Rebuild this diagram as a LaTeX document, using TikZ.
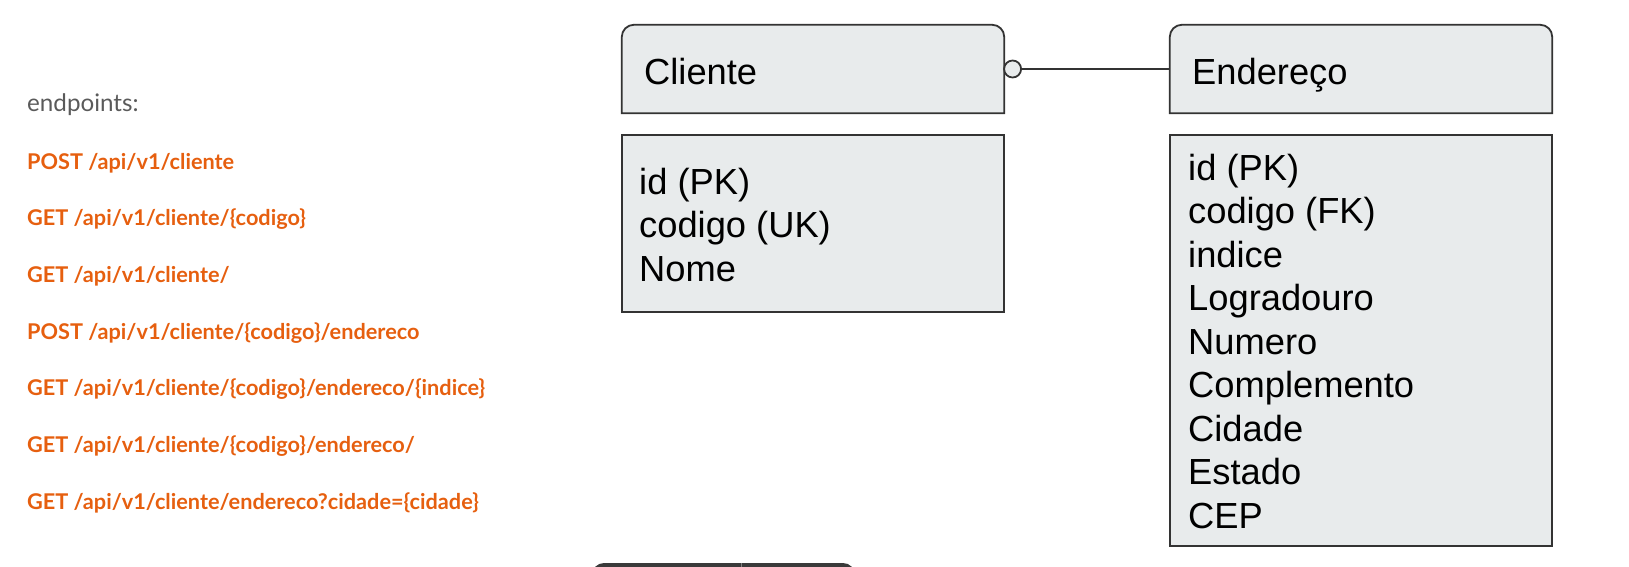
\documentclass[tikz,border=0pt]{standalone}
\usepackage{fontspec}
\setmainfont{Liberation Sans}
\newfontfamily\lato{Lato}
\definecolor{orng}{HTML}{E65F0F}
\definecolor{gry}{HTML}{5A5A5A}
\definecolor{boxfill}{HTML}{E8EBEC}
\definecolor{edgec}{HTML}{333333}
\definecolor{darkbar}{HTML}{3A3A3A}
\begin{document}
\begin{tikzpicture}[x=1pt,y=-1pt,
  ep/.style={anchor=base west, inner sep=0pt, font=\lato\fontsize{24.2}{29}\selectfont, text=gry},
  epb/.style={anchor=base west, inner sep=0pt, font=\lato\bfseries\fontsize{21.7}{26}\selectfont, text=orng},
  frame/.style={inner sep=0pt, minimum width=382pt},
  boxline/.style={draw=edgec, line width=1.8pt, fill=boxfill},
  attr/.style={anchor=base west, inner sep=0pt, font=\fontsize{36.3}{43.5}\selectfont},
  conn/.style={draw=edgec, line width=1.8pt}]
\useasboundingbox (0,0) rectangle (1629,567);

% endpoint list
\node[ep]  (l0) at (27,111.7) {endpoints:};
\node[epb] (l1) at (27,169.0) {POST /api/v1/cliente};
\node[epb] (l2) at (27,225.7) {GET /api/v1/cliente/\{codigo\}};
\node[epb] (l3) at (27,282.3) {GET /api/v1/cliente/};
\node[epb] (l4) at (27,339.0) {POST /api/v1/cliente/\{codigo\}/endereco};
\node[epb] (l5) at (27,395.7) {GET /api/v1/cliente/\{codigo\}/endereco/\{indice\}};
\node[epb] (l6) at (27,452.3) {GET /api/v1/cliente/\{codigo\}/endereco/};
\node[epb] (l7) at (27,509.0) {GET /api/v1/cliente/endereco?cidade=\{cidade\}};

% header frames
\node[frame, minimum height=88pt] (cli) at (813,69) {};
\node[frame, minimum height=88pt] (end) at (1361,69) {};
\draw[boxline] (cli.south west) [rounded corners=12pt] -- (cli.north west) -- (cli.north east) [sharp corners] -- (cli.south east) -- cycle;
\draw[boxline] (end.south west) [rounded corners=12pt] -- (end.north west) -- (end.north east) [sharp corners] -- (end.south east) -- cycle;
\node[attr] (clit) at (644,85) {Cliente};
\node[attr] (endt) at (1192,85) {Endereço};

% body frames
\node[frame, boxline, minimum height=177pt] (clib) at (813,223.5) {};
\node[frame, boxline, minimum height=411pt] (endb) at (1361,340.5) {};

\foreach \t [count=\i] in {{id (PK)},{codigo (UK)},{Nome}}
  \node[attr] (ca\i) at (639,{194+(\i-1)*43.5}) {\t};
\foreach \t [count=\i] in {{id (PK)},{codigo (FK)},{indice},{Logradouro},{Numero},{Complemento},{Cidade},{Estado},{CEP}}
  \node[attr] (ea\i) at (1188,{180+(\i-1)*43.5}) {\t};

% relationship connector
\node[circle, draw=edgec, line width=1.8pt, fill=boxfill, minimum size=17pt, inner sep=0pt, anchor=west] (zero) at ([xshift=-1pt]cli.east) {};
\draw[conn] (zero.east) -- (end.west);

% partial dark bar at bottom edge
\begin{scope}
  \clip (0,0) rectangle (1629,567);
  \fill[darkbar, rounded corners=12pt] (592,563) rectangle (855,600);
  \draw[gray, line width=1pt] (741,563) -- (741,567);
\end{scope}
\end{tikzpicture}
\end{document}
